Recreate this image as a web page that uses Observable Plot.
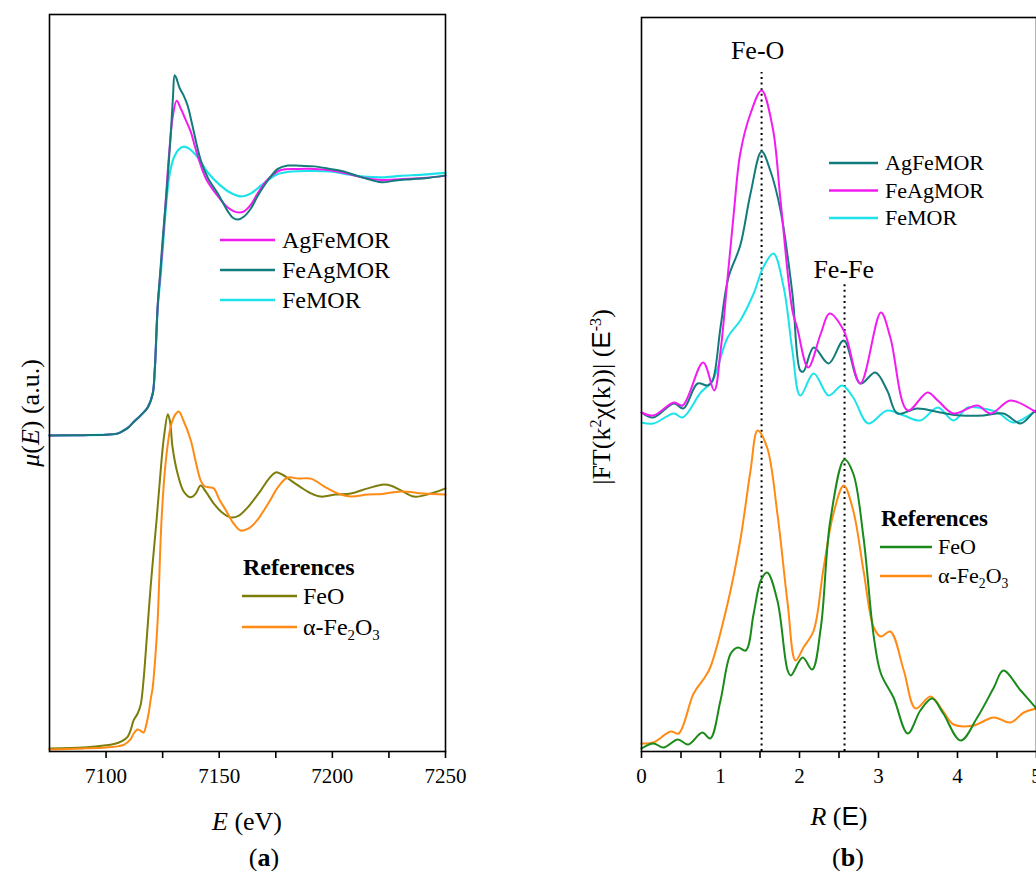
<!DOCTYPE html>
<html><head><meta charset="utf-8">
<script src="https://cdn.jsdelivr.net/npm/d3@7"></script>
<script src="https://cdn.jsdelivr.net/npm/@observablehq/plot@0.6"></script>
<style>
html,body{margin:0;padding:0;background:#fff;overflow:hidden;width:1036px;height:871px;}
#wrap{position:relative;width:1036px;height:871px;font-family:"Liberation Serif","Times New Roman",serif;color:#000;}
.abs{position:absolute;white-space:nowrap;line-height:1;}
.plot{position:absolute;top:0;}
.plot text{font-family:"Liberation Serif","Times New Roman",serif;}
sub{font-size:0.62em;vertical-align:-0.35em;line-height:0;}
sup{font-size:0.62em;vertical-align:0.55em;line-height:0;}
.sans{font-family:"Liberation Sans","DejaVu Sans",sans-serif;}
</style></head><body><div id="wrap"></div>
<script>
// ---------- Panel (a): XANES, E (eV) vs normalized mu(E) ----------
const eMajorTicks = [7100, 7150, 7200, 7250];
const eMinorTicks = [7125, 7175, 7225];

const xanesFeAgMOR = [[7075,1.218],[7090,1.219],[7100,1.221],[7105,1.225],[7107.7,1.237],[7110,1.25],[7112.2,1.27],[7115.3,1.296],[7118.4,1.327],[7120.6,1.38],[7121.5,1.47],[7122.8,1.72],[7124,1.86],[7125,1.98],[7127,2.19],[7128.5,2.38],[7129.6,2.54],[7130.3,2.62],[7131,2.61],[7132.5,2.57],[7134.3,2.54],[7136.1,2.50],[7138,2.43],[7141.8,2.29],[7145,2.22],[7149.3,2.16],[7153.8,2.09],[7156,2.065],[7158.2,2.058],[7161,2.07],[7163.9,2.10],[7167,2.15],[7171.5,2.21],[7175.9,2.255],[7180.3,2.268],[7186,2.267],[7192,2.265],[7199,2.255],[7205,2.245],[7212,2.225],[7218,2.21],[7222,2.203],[7228,2.21],[7235,2.215],[7242,2.22],[7250,2.23]];
const xanesAgFeMOR = [[7075,1.218],[7090,1.219],[7100,1.221],[7105,1.225],[7107.7,1.237],[7110,1.25],[7112.2,1.27],[7115.3,1.296],[7118.4,1.327],[7120.6,1.38],[7121.5,1.47],[7122.8,1.72],[7124,1.85],[7125,1.96],[7126.5,2.15],[7128,2.33],[7129.5,2.46],[7131.2,2.52],[7133,2.49],[7135,2.45],[7137.4,2.40],[7140,2.32],[7144,2.22],[7149.3,2.15],[7153.8,2.105],[7158.2,2.086],[7161,2.09],[7163.9,2.115],[7167,2.16],[7171.5,2.215],[7177,2.25],[7185,2.255],[7192,2.255],[7199,2.25],[7205,2.24],[7212,2.225],[7218,2.215],[7222,2.212],[7230,2.215],[7240,2.22],[7250,2.228]];
const xanesFeMOR = [[7075,1.218],[7090,1.219],[7100,1.221],[7105,1.225],[7107.7,1.237],[7110,1.25],[7112.2,1.27],[7115.3,1.296],[7118.4,1.327],[7120.6,1.38],[7121.5,1.47],[7122.8,1.71],[7124,1.83],[7125,1.94],[7126.5,2.11],[7128,2.23],[7130,2.30],[7132,2.33],[7134.3,2.342],[7136.5,2.335],[7139.6,2.31],[7142,2.28],[7145,2.24],[7150,2.195],[7155,2.162],[7159.5,2.148],[7164,2.16],[7168.4,2.19],[7172,2.215],[7176,2.235],[7182,2.245],[7190,2.247],[7199,2.245],[7206,2.235],[7214,2.225],[7222,2.222],[7230,2.228],[7240,2.233],[7250,2.24]];
const xanesFeO = [[7075,0.0],[7090,0.004],[7100,0.012],[7104,0.018],[7107,0.028],[7109.5,0.045],[7111,0.075],[7112.2,0.11],[7113.9,0.135],[7115.3,0.17],[7116.5,0.26],[7117.5,0.37],[7119.7,0.63],[7122.3,0.887],[7124.5,1.12],[7125.7,1.22],[7127.3,1.30],[7128.3,1.27],[7129.4,1.17],[7131.6,1.07],[7134.3,1.0],[7137.4,0.977],[7139.5,0.99],[7141.8,1.023],[7144,1.0],[7147.6,0.953],[7151,0.92],[7155.1,0.899],[7158.5,0.905],[7162.6,0.938],[7165.5,0.97],[7168.4,1.004],[7172,1.05],[7175,1.074],[7178,1.065],[7181.6,1.043],[7186.1,1.016],[7190,0.995],[7194.9,0.98],[7201.5,0.988],[7208.2,0.992],[7215.7,1.012],[7222.8,1.027],[7226,1.022],[7230.3,1.004],[7236.1,0.98],[7243.6,0.992],[7250,1.012]];
const xanesFe2O3 = [[7075,-0.004],[7090,0.0],[7100,0.004],[7105,0.008],[7108,0.015],[7110.8,0.035],[7112.2,0.058],[7113.9,0.074],[7115,0.07],[7116.6,0.062],[7117.7,0.09],[7118.8,0.136],[7119.7,0.19],[7120.6,0.237],[7121.8,0.36],[7122.8,0.498],[7124.5,0.887],[7126.3,1.11],[7128.5,1.25],[7130.3,1.295],[7132.1,1.311],[7134,1.28],[7137.4,1.20],[7139.5,1.12],[7141.8,1.043],[7143.5,1.02],[7145.4,1.016],[7147.6,1.012],[7150,0.97],[7153,0.926],[7156,0.88],[7159.5,0.848],[7163,0.856],[7167,0.89],[7170,0.93],[7172.8,0.97],[7175.9,1.016],[7180.3,1.054],[7185,1.05],[7190.5,1.05],[7197,1.016],[7203,0.99],[7208.2,0.98],[7215.7,0.988],[7222,0.99],[7230.3,1.0],[7240,0.992],[7250,0.988]];

// ---------- Panel (b): |FT(k^2 chi(k))| vs R ----------
const rMajorTicks = [0, 1, 2, 3, 4, 5];
const rMinorTicks = [0.5, 1.5, 2.5, 3.5, 4.5];

const ftAgFeMOR = [[0,3.39],[0.15,3.34],[0.41,3.48],[0.53,3.43],[0.71,3.68],[0.84,3.66],[0.9,3.71],[1.0,4.24],[1.1,4.74],[1.25,5.06],[1.38,5.58],[1.52,6.0],[1.63,5.81],[1.76,5.41],[1.91,4.58],[2.01,3.81],[2.05,3.80],[2.18,4.04],[2.37,3.88],[2.56,4.11],[2.77,3.68],[2.96,3.79],[3.11,3.61],[3.24,3.38],[3.49,3.43],[3.78,3.39],[4.04,3.36],[4.33,3.36],[4.58,3.38],[4.80,3.28],[4.96,3.39],[5.0,3.41]];
const ftFeAgMOR = [[0,3.39],[0.15,3.36],[0.41,3.49],[0.52,3.46],[0.78,3.89],[0.92,3.61],[1.0,4.0],[1.09,4.74],[1.17,5.40],[1.25,5.98],[1.38,6.38],[1.52,6.61],[1.66,6.24],[1.76,5.51],[1.91,4.41],[1.97,4.24],[2.11,3.84],[2.27,4.18],[2.38,4.38],[2.56,4.21],[2.77,3.68],[3.03,4.39],[3.15,4.14],[3.37,3.41],[3.62,3.59],[3.75,3.51],[3.95,3.38],[4.25,3.46],[4.42,3.38],[4.67,3.51],[4.96,3.41],[5.0,3.39]];
const ftFeMOR = [[0,3.29],[0.15,3.28],[0.41,3.38],[0.52,3.34],[0.75,3.59],[0.90,3.71],[1.09,4.14],[1.25,4.31],[1.42,4.58],[1.54,4.84],[1.67,4.98],[1.80,4.64],[1.91,4.01],[2.01,3.56],[2.18,3.78],[2.37,3.56],[2.54,3.66],[2.68,3.54],[2.87,3.28],[3.11,3.41],[3.32,3.36],[3.53,3.31],[3.75,3.44],[3.95,3.31],[4.13,3.44],[4.32,3.43],[4.51,3.39],[4.71,3.29],[4.96,3.39],[5.0,3.41]];
const ftFeO = [[0,0.03],[0.15,0.08],[0.28,0.04],[0.46,0.12],[0.59,0.07],[0.77,0.19],[0.87,0.13],[1.0,0.51],[1.13,0.98],[1.22,1.04],[1.32,1.01],[1.42,1.38],[1.51,1.71],[1.59,1.79],[1.72,1.51],[1.85,0.81],[1.89,0.76],[2.04,0.94],[2.16,0.82],[2.27,1.24],[2.39,2.31],[2.57,2.92],[2.68,2.78],[2.81,2.14],[2.94,1.15],[3.03,0.78],[3.19,0.54],[3.37,0.18],[3.53,0.41],[3.68,0.53],[3.82,0.38],[4.04,0.11],[4.25,0.34],[4.46,0.64],[4.58,0.81],[4.80,0.61],[5.0,0.43]];
const ftFe2O3 = [[0,0.08],[0.15,0.09],[0.37,0.20],[0.47,0.18],[0.66,0.58],[0.8,0.74],[0.87,0.84],[1.09,1.48],[1.25,2.11],[1.38,2.81],[1.47,3.21],[1.59,3.04],[1.72,2.38],[1.85,1.48],[1.95,0.91],[2.05,1.04],[2.18,1.21],[2.30,1.81],[2.43,2.38],[2.56,2.66],[2.68,2.41],[2.81,1.81],[2.94,1.24],[3.03,1.15],[3.15,1.20],[3.32,0.81],[3.47,0.43],[3.66,0.55],[3.81,0.41],[3.95,0.27],[4.20,0.26],[4.46,0.34],[4.67,0.29],[4.84,0.39],[5.0,0.43]];

const bondNames = ["Fe-O", "Fe-Fe"];
const bondR = [1.52, 2.57];
const bondLineTop = [6.79, 4.69];
const bondLabelR = [1.47, 2.56];
const bondLabelY = [7.01, 4.82];

// ---------- colours ----------
const cTeal = "#137b7b", cMagenta = "#f21cf2", cCyan = "#1ce3ea";
const cOlive = "#7d7d0c", cOrange = "#ff8a14", cGreen = "#1a8a1a";

const serif = '"Liberation Serif","Times New Roman",serif';
const toRows = (arr) => arr.map(([x, y]) => ({x, y}));
const baseStyle = {fontFamily: serif, fontSize: "21px", color: "#000", background: "transparent", overflow: "visible"};
const fmt = d => String(d);

const wrap = document.getElementById("wrap");

const left = Plot.plot({
  width: 470, height: 790,
  marginLeft: 49, marginRight: 25, marginTop: 14, marginBottom: 39,
  x: {domain: [7075, 7250]},
  y: {domain: [-0.012, 2.856], axis: null},
  style: baseStyle,
  marks: [
    Plot.axisX({ticks: eMajorTicks, tickSize: 7, tickPadding: 10, tickFormat: fmt, label: null, strokeWidth: 1.6, fontFamily: serif, fontSize: 21}),
    Plot.axisX({ticks: eMinorTicks, tickSize: 7, tickFormat: () => "", label: null, strokeWidth: 1.6}),
    Plot.line(toRows(xanesFeO), {x: "x", y: "y", stroke: cOlive, strokeWidth: 2, curve: "catmull-rom"}),
    Plot.line(toRows(xanesFe2O3), {x: "x", y: "y", stroke: cOrange, strokeWidth: 2, curve: "catmull-rom"}),
    Plot.line(toRows(xanesFeMOR), {x: "x", y: "y", stroke: cCyan, strokeWidth: 2.2, curve: "catmull-rom"}),
    Plot.line(toRows(xanesAgFeMOR), {x: "x", y: "y", stroke: cMagenta, strokeWidth: 2, curve: "catmull-rom"}),
    Plot.line(toRows(xanesFeAgMOR), {x: "x", y: "y", stroke: cTeal, strokeWidth: 2, curve: "catmull-rom"}),
    Plot.frame({stroke: "#000", strokeWidth: 1.6})
  ]
});
left.classList.add("plot");
left.style.left = "0px";
wrap.appendChild(left);

const bonds = bondNames.map((name, i) => ({name, r: bondR[i], top: bondLineTop[i], lr: bondLabelR[i], ly: bondLabelY[i]}));

const right = Plot.plot({
  width: 500, height: 790,
  marginLeft: 81, marginRight: 24, marginTop: 17, marginBottom: 39,
  x: {domain: [0, 5]},
  y: {domain: [0, 7.34], axis: null},
  style: baseStyle,
  marks: [
    Plot.axisX({ticks: rMajorTicks, tickSize: 7, tickPadding: 10, tickFormat: fmt, label: null, strokeWidth: 1.6, fontFamily: serif, fontSize: 21}),
    Plot.axisX({ticks: rMinorTicks, tickSize: 7, tickFormat: () => "", label: null, strokeWidth: 1.6}),
    Plot.ruleX(bonds, {x: "r", y1: 0, y2: "top", stroke: "#000", strokeWidth: 2, strokeDasharray: "2,3.6"}),
    Plot.text(bonds, {x: "lr", y: "ly", text: "name", fontSize: 26, fontFamily: serif, fill: "#000"}),
    Plot.line(toRows(ftFe2O3), {x: "x", y: "y", stroke: cOrange, strokeWidth: 2, curve: "catmull-rom"}),
    Plot.line(toRows(ftFeO), {x: "x", y: "y", stroke: cGreen, strokeWidth: 2, curve: "catmull-rom"}),
    Plot.line(toRows(ftFeMOR), {x: "x", y: "y", stroke: cCyan, strokeWidth: 2, curve: "catmull-rom"}),
    Plot.line(toRows(ftAgFeMOR), {x: "x", y: "y", stroke: cTeal, strokeWidth: 2, curve: "catmull-rom"}),
    Plot.line(toRows(ftFeAgMOR), {x: "x", y: "y", stroke: cMagenta, strokeWidth: 2, curve: "catmull-rom"}),
    Plot.frame({stroke: "#000", strokeWidth: 1.6})
  ]
});
right.classList.add("plot");
right.style.left = "560px";
wrap.appendChild(right);

// ---------- overlays: legends, axis titles, panel tags ----------
const ov = d3.select(wrap).append("svg")
  .attr("width", 1036).attr("height", 871)
  .style("position", "absolute").style("left", "0px").style("top", "0px").style("pointer-events", "none");

function addText(html, x, y, size, opts = {}) {
  const d = document.createElement("div");
  d.className = "abs";
  d.innerHTML = html;
  d.style.left = x + "px";
  d.style.top = y + "px";
  d.style.fontSize = size + "px";
  if (opts.bold) d.style.fontWeight = "bold";
  const tx = opts.center ? "-50%" : "0";
  d.style.transform = opts.rotate ? "translate(-50%,-50%) rotate(-90deg)" : `translate(${tx},-50%)`;
  wrap.appendChild(d);
}
function legendItem(x1, x2, y, color, html, tx, size) {
  ov.append("line").attr("x1", x1).attr("x2", x2).attr("y1", y).attr("y2", y)
    .attr("stroke", color).attr("stroke-width", 2.6);
  addText(html, tx, y, size);
}

// panel (a) legends
const legA1 = [["AgFeMOR", cMagenta], ["FeAgMOR", cTeal], ["FeMOR", cCyan]];
legA1.forEach(([t, c], i) => legendItem(220, 275, 240 + i * 30, c, t, 282, 24));
addText("References", 243, 567, 24, {bold: true});
const legA2 = [["FeO", cOlive], ["α-Fe<sub>2</sub>O<sub>3</sub>", cOrange]];
legA2.forEach(([t, c], i) => legendItem(242, 297, 596 + i * 31, c, t, 303, 24));

// panel (b) legends
const legB1 = [["AgFeMOR", cTeal], ["FeAgMOR", cMagenta], ["FeMOR", cCyan]];
legB1.forEach(([t, c], i) => legendItem(829, 878, 163 + i * 27.5, c, t, 885, 22));
addText("References", 881, 518, 23, {bold: true});
const legB2 = [["FeO", cGreen], ["α-Fe<sub>2</sub>O<sub>3</sub>", cOrange]];
legB2.forEach(([t, c], i) => legendItem(880, 932, 547 + i * 29, c, t, 938, 22));

// axis titles
addText("<i>μ</i>(<i>E</i>) (a.u.)", 31, 413, 26, {rotate: true});
addText("<i>E</i> (eV)", 247, 822, 26, {center: true});
addText("(<b>a</b>)", 264, 858, 26, {center: true});
addText("|FT(k<sup>2</sup>χ(k))| (<span class='sans'>E</span><sup>-3</sup>)", 601, 397, 26, {rotate: true});
addText("<i>R</i> (<span class='sans'>E</span>)", 839, 816, 26, {center: true});
addText("(<b>b</b>)", 848, 858, 26, {center: true});
</script></body></html>
